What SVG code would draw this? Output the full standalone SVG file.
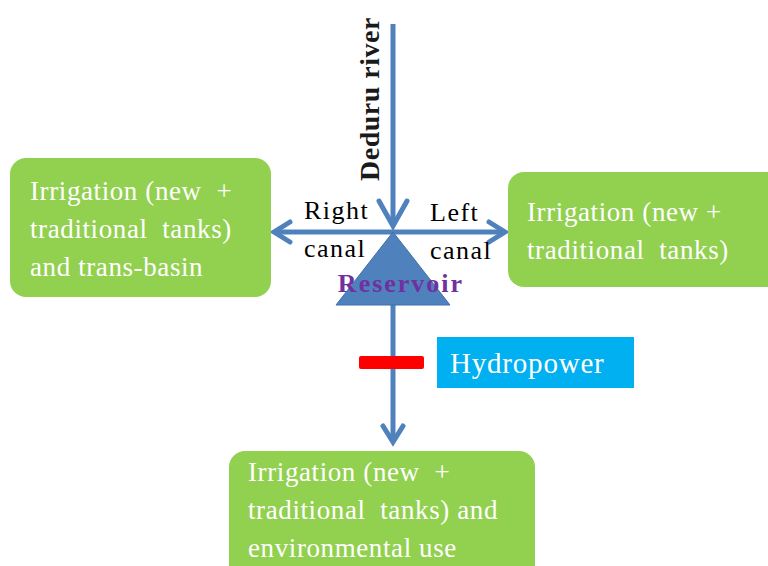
<svg xmlns="http://www.w3.org/2000/svg" width="768" height="566" viewBox="0 0 768 566">
  <style>
    .box { fill: #92D050; }
    .boxtxt { font-family: "Liberation Serif", serif; font-size: 27px; letter-spacing: 0.6px; fill: #ffffff; white-space: pre; }
    .flow { stroke: #4F81BD; stroke-width: 5; fill: none; stroke-linecap: butt; }
    .head { stroke: #4F81BD; stroke-width: 5; fill: none; stroke-linecap: round; stroke-linejoin: miter; }
    .lbl { font-family: "Liberation Serif", serif; font-size: 26px; letter-spacing: 1.5px; fill: #000000; }
  </style>
  <rect width="768" height="566" fill="#ffffff"/>

  <g id="connectors">
    <!-- river into reservoir -->
    <line class="flow" x1="393" y1="24" x2="393" y2="226"/>
    <polyline class="head" points="379,201 393,226 407,201"/>
    <!-- right canal -->
    <line class="flow" x1="393" y1="232" x2="276" y2="232"/>
    <polyline class="head" points="290,222 274,232 290,242"/>
    <!-- left canal -->
    <line class="flow" x1="393" y1="232" x2="503" y2="232"/>
    <polyline class="head" points="489,222 505,232 489,242"/>
    <!-- outflow below reservoir -->
    <line class="flow" x1="393" y1="300" x2="393" y2="440"/>
    <polyline class="head" points="383,426 393,442 403,426"/>
  </g>

  <g id="reservoir">
    <polygon points="393,232 336,305 450,305" fill="#4F81BD" stroke="#3f6fa8" stroke-width="1"/>
    <text x="401" y="292" text-anchor="middle" font-family="Liberation Serif, serif" font-size="26" font-weight="bold" letter-spacing="2" fill="#7030A0">Reservoir</text>
  </g>

  <g id="river-label">
    <text transform="translate(379,99) rotate(-90)" text-anchor="middle" font-family="Liberation Serif, serif" font-size="28" font-weight="bold" letter-spacing="0.5" fill="#1a1a1a">Deduru river</text>
  </g>

  <g id="canal-labels">
    <text class="lbl" x="304" y="219">Right</text>
    <text class="lbl" x="304" y="257">canal</text>
    <text class="lbl" x="430" y="221">Left</text>
    <text class="lbl" x="430" y="259">canal</text>
  </g>

  <g id="right-canal-use">
    <rect class="box" x="10" y="158" width="261" height="139" rx="16"/>
    <text class="boxtxt" x="30" y="200">Irrigation (new  +</text>
    <text class="boxtxt" x="30" y="238">traditional  tanks)</text>
    <text class="boxtxt" x="30" y="276">and trans-basin</text>
  </g>

  <g id="left-canal-use">
    <rect class="box" x="508" y="172" width="275" height="115" rx="16"/>
    <text class="boxtxt" x="527" y="221">Irrigation (new +</text>
    <text class="boxtxt" x="527" y="259">traditional  tanks)</text>
  </g>

  <g id="hydropower">
    <rect x="359" y="356" width="65" height="13" rx="2" fill="#FF0000"/>
    <rect x="437" y="337" width="197" height="51" fill="#00B0F0"/>
    <text x="450" y="373" font-family="Liberation Serif, serif" font-size="29" letter-spacing="0.8" fill="#ffffff">Hydropower</text>
  </g>

  <g id="downstream-use">
    <rect class="box" x="229" y="451" width="306" height="130" rx="16"/>
    <text class="boxtxt" x="248" y="481">Irrigation (new  +</text>
    <text class="boxtxt" x="248" y="519">traditional  tanks) and</text>
    <text class="boxtxt" x="248" y="557">environmental use</text>
  </g>
</svg>
